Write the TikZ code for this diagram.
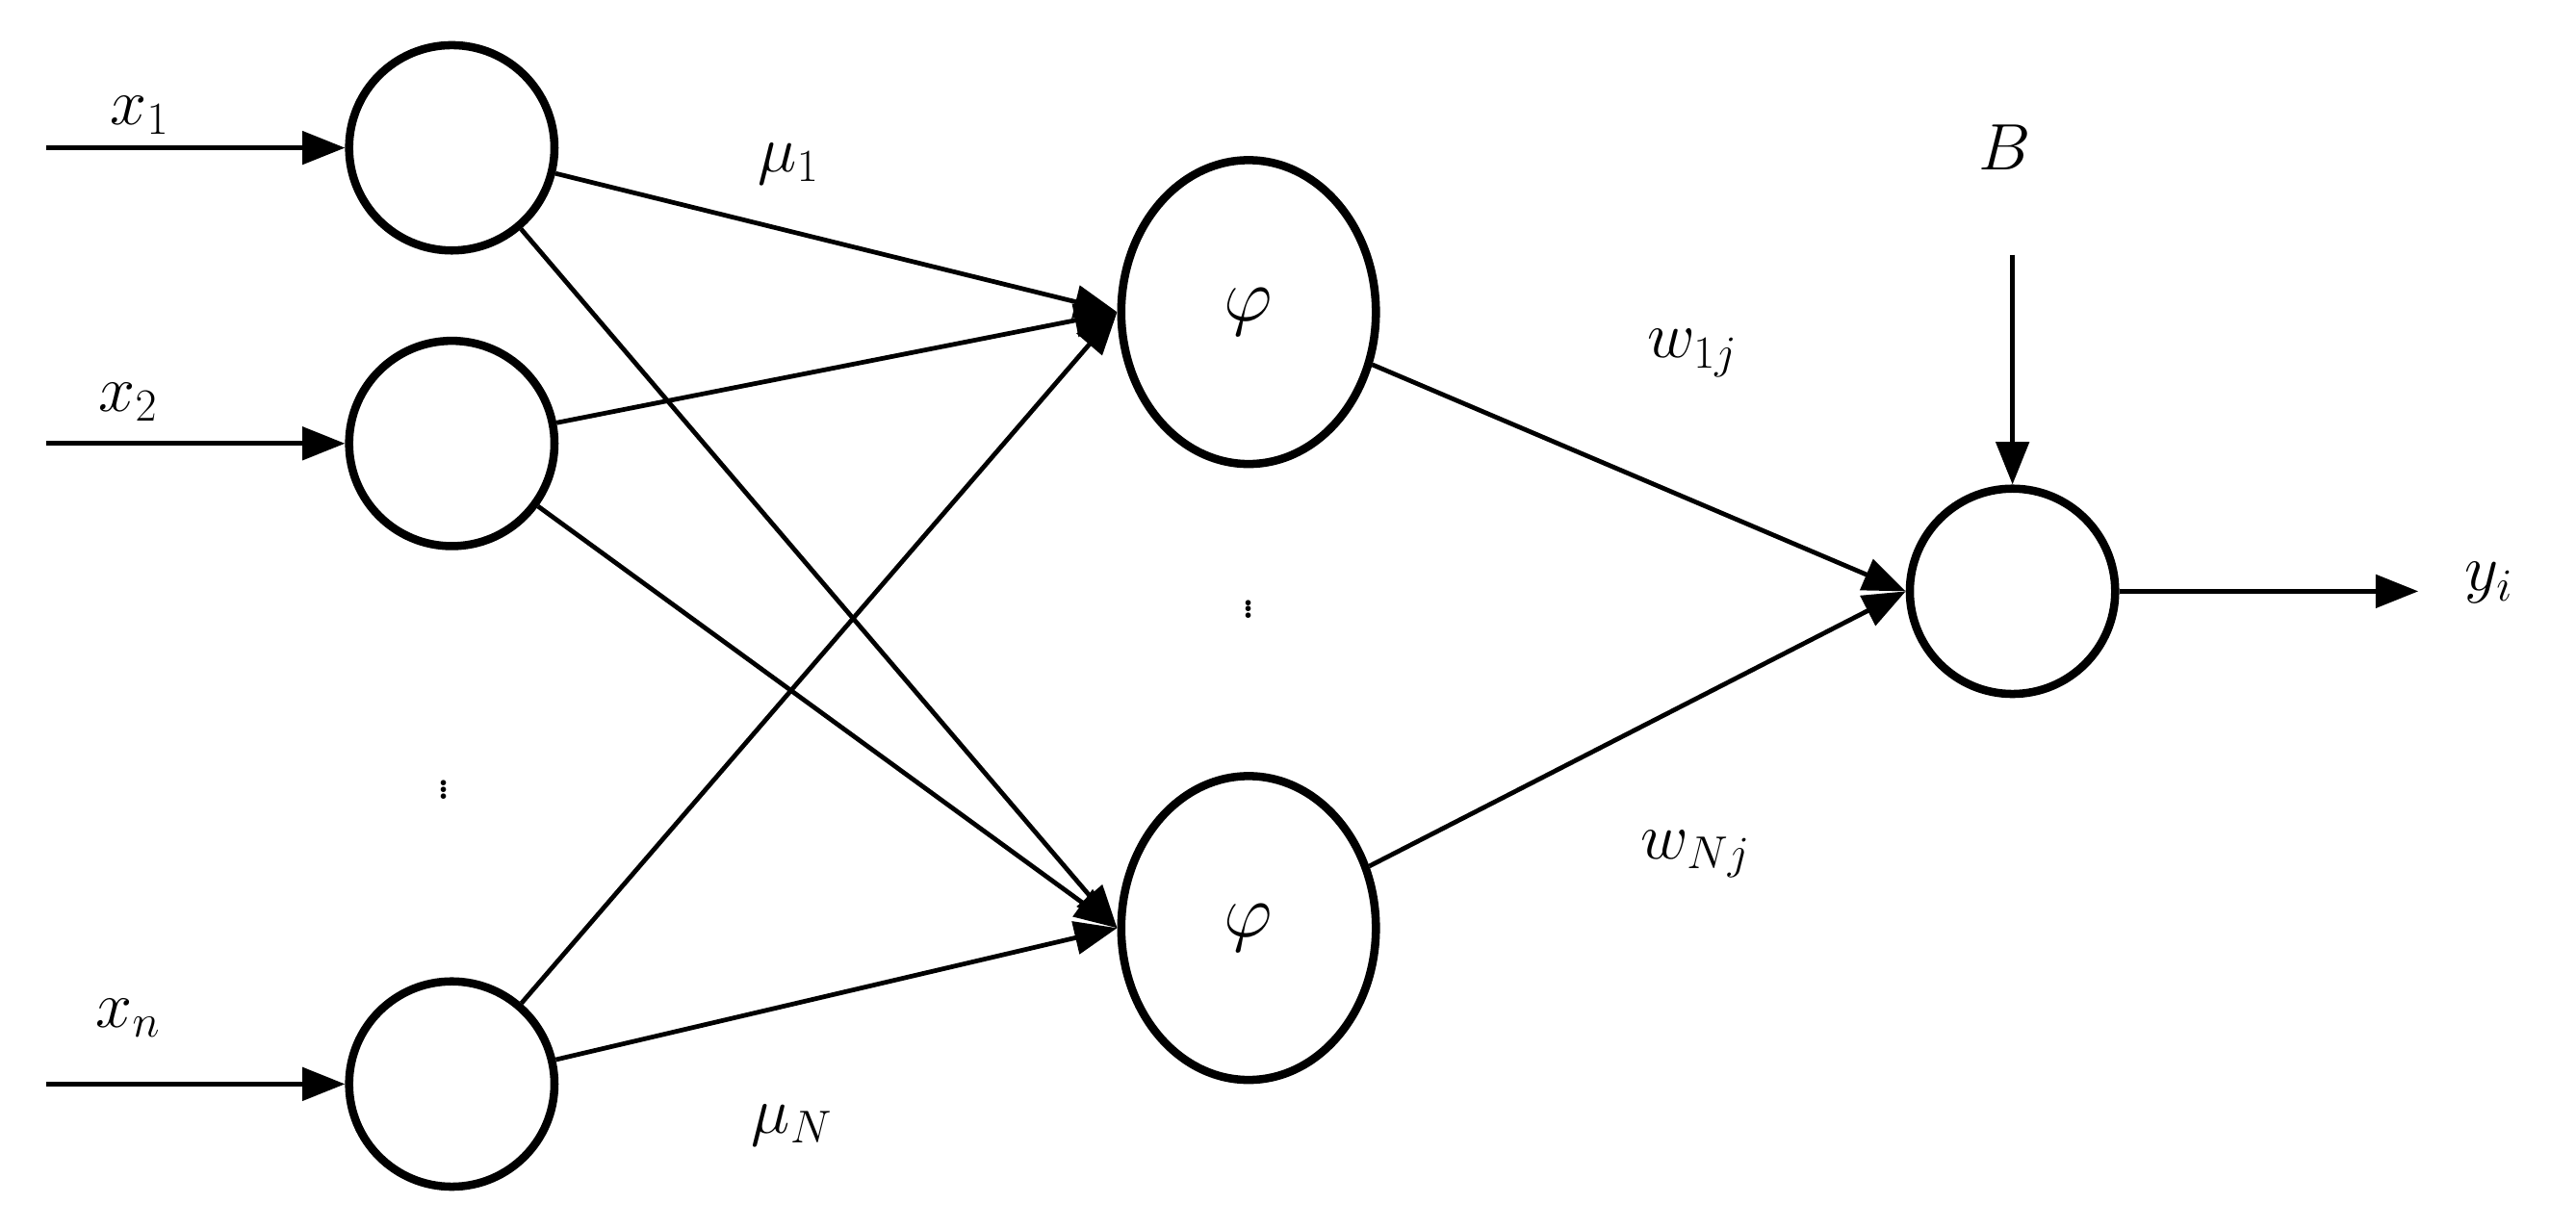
\RequirePackage{fix-cm}
\documentclass[tikz,border=0pt]{standalone}
\usetikzlibrary{arrows.meta,shapes.geometric}
\begin{document}
\begin{tikzpicture}[x=1pt,y=1pt,
  neuron/.style={circle,draw,line width=5pt,minimum size=125pt,inner sep=0},
  phi/.style={ellipse,draw,line width=5pt,minimum width=155pt,minimum height=185pt,inner sep=0,font=\fontsize{46}{52}\selectfont},
  conn/.style={line width=2.8pt,-{Triangle[length=26pt,width=20pt]}},
  lab/.style={font=\fontsize{40}{48}\selectfont}]
\useasboundingbox (0,0) rectangle (1568,748);
\node[neuron] (i1) at (275,658) {};
\node[neuron] (i2) at (275,478) {};
\node[neuron] (in) at (275,88) {};
\node[phi] (p1) at (760,558) {$\varphi$};
\node[phi] (p2) at (760,183) {$\varphi$};
\node[neuron] (o) at (1225,388) {};
\coordinate (s1) at (28,658);
\coordinate (s2) at (28,478);
\coordinate (sn) at (28,88);
\coordinate (b) at (1225,593);
\coordinate (e) at (1472,388);
\draw[conn] (s1) -- (i1);
\draw[conn] (s2) -- (i2);
\draw[conn] (sn) -- (in);
\foreach \a in {i1,i2,in}{\foreach \p in {p1,p2}{\draw[conn] (\a) -- (\p.west);}}
\draw[conn] (p1) -- (o.west);
\draw[conn] (p2) -- (o.west);
\draw[conn] (b) -- (o);
\draw[conn] (o) -- (e);
\node[lab] (lx1) at (85,678) {$x_{1}$};
\node[lab] (lx2) at (78,503) {$x_{2}$};
\node[lab] (lxn) at (78,128) {$x_{n}$};
\node[lab] (lm1) at (480,648) {$\mu_1$};
\node[lab] (lmN) at (482,63) {$\mu_N$};
\node[lab] (lw1) at (1030,533) {$w_{1j}$};
\node[lab] (lwN) at (1032,228) {$w_{Nj}$};
\node[lab] (lB) at (1220,658) {$B$};
\node[lab] (ly) at (1515,393) {$y_i$};
\node[lab] (d1) at (270,270) {$\vdots$};
\node[lab] (d2) at (760,380) {$\vdots$};
\end{tikzpicture}
\end{document}
